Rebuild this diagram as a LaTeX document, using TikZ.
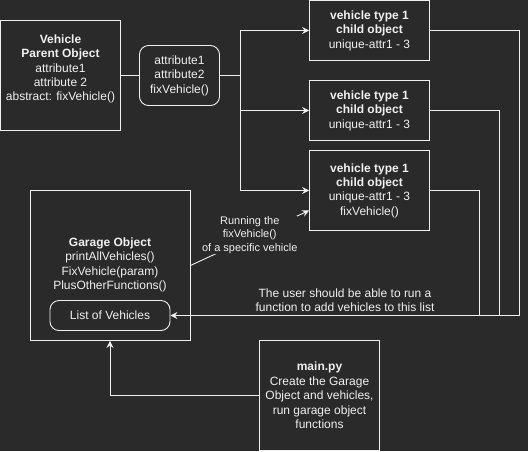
\documentclass[tikz,border=0pt]{standalone}
\usepackage{fontspec}
\setmainfont{Liberation Sans}
\usetikzlibrary{arrows.meta,calc}
\definecolor{bg}{HTML}{2A2A2A}
\definecolor{fg}{HTML}{F0F0F0}
\begin{document}
\begin{tikzpicture}[x=1pt,y=-1pt,
  txt/.style={text=fg, align=center, inner sep=0pt, font=\fontsize{12}{14.4}\selectfont},
  smalltxt/.style={text=fg, align=center, inner sep=0pt, font=\fontsize{11}{13.5}\selectfont},
  box/.style={txt, draw=fg, line width=0.9pt, fill=bg},
  rbox/.style={box, rounded corners=9pt},
  conn/.style={draw=fg, line width=0.9pt},
  arr/.style={conn, -{Stealth[length=7pt,width=7pt,inset=2.5pt]}}]
\useasboundingbox[fill=bg] (0,0) rectangle (528,451);

% nodes
\node[box, minimum width=120pt, minimum height=110pt,
  label={[txt, yshift=6.5pt]center:{\textbf{Vehicle}\\\textbf{Parent Object}\\attribute1\\attribute 2\\abstract: fixVehicle()}}]
  (parent) at (60.5,75.5) {};
\node[rbox, minimum width=80pt, minimum height=60pt] (attr) at (179.5,75.5) {attribute1\\attribute2\\fixVehicle()};
\node[box, minimum width=120pt, minimum height=60pt] (child1) at (369.5,30.5) {\textbf{vehicle type 1}\\\textbf{child object}\\unique-attr1 - 3};
\node[box, minimum width=120pt, minimum height=60pt] (child2) at (369.5,110.5) {\textbf{vehicle type 1}\\\textbf{child object}\\unique-attr1 - 3};
\node[box, minimum width=120pt, minimum height=80pt] (child3) at (369.5,190.5) {\textbf{vehicle type 1}\\\textbf{child object}\\unique-attr1 - 3\\fixVehicle()};
\node[box, minimum width=160pt, minimum height=150pt] (garage) at (110,265.5) {};
\node[txt] (garagetxt) at (110,265) {\textbf{Garage Object}\\printAllVehicles()\\FixVehicle(param)\\PlusOtherFunctions()};
\node[rbox, minimum width=120pt, minimum height=30pt] (list) at (110,315.5) {List of Vehicles};
\node[box, minimum width=120pt, minimum height=110pt] (main) at (319.5,395.5) {\textbf{main.py}\\Create the Garage\\Object and vehicles,\\run garage object\\functions};
\node[txt] (userlbl) at (345,300) {The user should be able to run a\\function to add vehicles to this list};

% connectors
\coordinate (split) at ($(attr.east)+(20,0)$);
\draw[conn] (parent) -- (attr);
\draw[conn] (attr) -- (split);
\draw[arr] (split) |- (child1);
\draw[arr] (split) |- (child2);
\draw[arr] (split) |- (child3);

\coordinate (bus1) at (519.5,315.5);
\coordinate (bus2) at (499.5,315.5);
\coordinate (bus3) at (479.5,315.5);
\draw[conn] (child2.east) -| (bus2);
\draw[conn] (child3.east) -| (bus3);
\draw[arr] (child1.east) -| (bus1) -- (list.east);

\coordinate (c3in) at ($(child3.west)+(0,20)$);
\draw[arr] (garage.east) -- node[smalltxt, fill=bg, yshift=3pt] (runlbl) {Running the\\fixVehicle()\\of a specific vehicle} (c3in);

\draw[arr] (main.west) -| (garage.south);
\end{tikzpicture}
\end{document}
